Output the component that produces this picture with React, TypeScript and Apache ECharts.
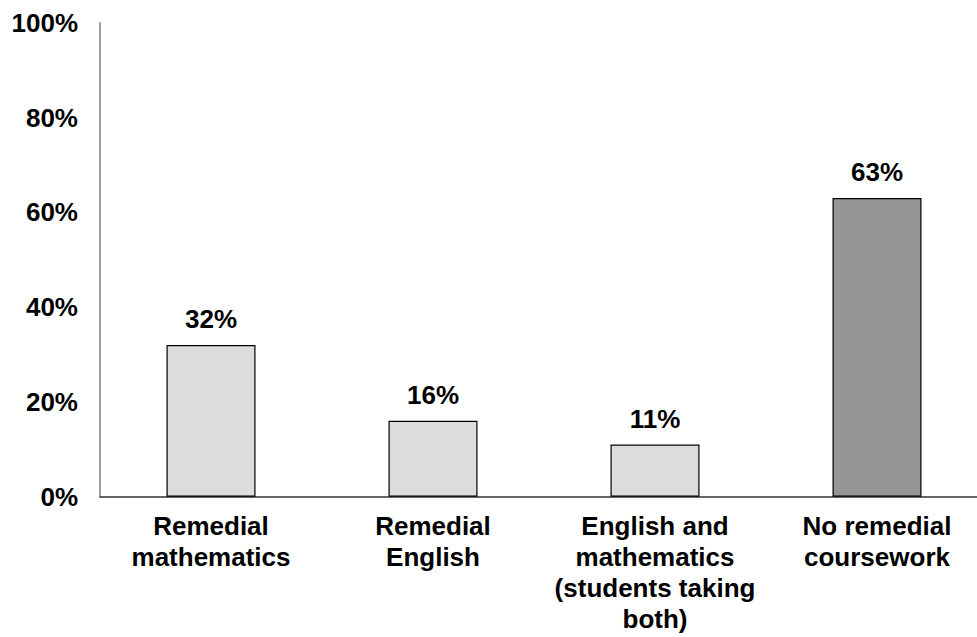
import React, { useEffect, useRef } from "react";
import * as echarts from "echarts";

const categories = [
  "Remedial\nmathematics",
  "Remedial\nEnglish",
  "English and\nmathematics\n(students taking\nboth)",
  "No remedial\ncoursework",
];
const values = [32, 16, 11, 63];
const barColors = ["#DDDDDD", "#DDDDDD", "#DDDDDD", "#969696"];
const yTicks = [0, 20, 40, 60, 80, 100];

export default function App() {
  const ref = useRef<HTMLDivElement>(null);
  useEffect(() => {
    if (!ref.current) return;
    const chart = echarts.init(ref.current, null, { renderer: "svg" });
    const font = "'Liberation Sans', Arial, sans-serif";
    chart.setOption({
      animation: false,
      grid: { left: 100, top: 22.7, width: 888, bottom: 140.3, containLabel: false },
      xAxis: {
        type: "category",
        data: categories,
        axisLine: { show: true, lineStyle: { color: "#333333", width: 1.5 } },
        axisTick: { show: false },
        axisLabel: {
          interval: 0,
          color: "#000",
          fontFamily: font,
          fontWeight: "bold",
          fontSize: 26,
          lineHeight: 31,
          margin: 14,
        },
      },
      yAxis: {
        type: "value",
        min: 0,
        max: 100,
        interval: 20,
        splitLine: { show: false },
        axisLine: { show: true, lineStyle: { color: "#808080", width: 1.5 } },
        axisTick: { show: false },
        axisLabel: {
          color: "#000",
          fontFamily: font,
          fontWeight: "bold",
          fontSize: 26,
          margin: 22,
          formatter: (v: number) => (yTicks.includes(v) ? v + "%" : ""),
        },
      },
      series: [
        {
          type: "bar",
          barWidth: 89,
          data: values.map((v, i) => ({
            value: v,
            itemStyle: { color: barColors[i], borderColor: "#000", borderWidth: 1.2 },
          })),
          label: {
            show: true,
            position: "top",
            distance: 13,
            color: "#000",
            fontFamily: font,
            fontWeight: "bold",
            fontSize: 26,
            formatter: (p: any) => p.value + "%",
          },
        },
      ],
    });
    return () => chart.dispose();
  }, []);
  return (
    <div style={{ width: 977, height: 637, position: "absolute", left: 0, top: 0, overflow: "hidden" }}>
      <div ref={ref} style={{ width: 1000, height: 637 }} />
    </div>
  );
}
